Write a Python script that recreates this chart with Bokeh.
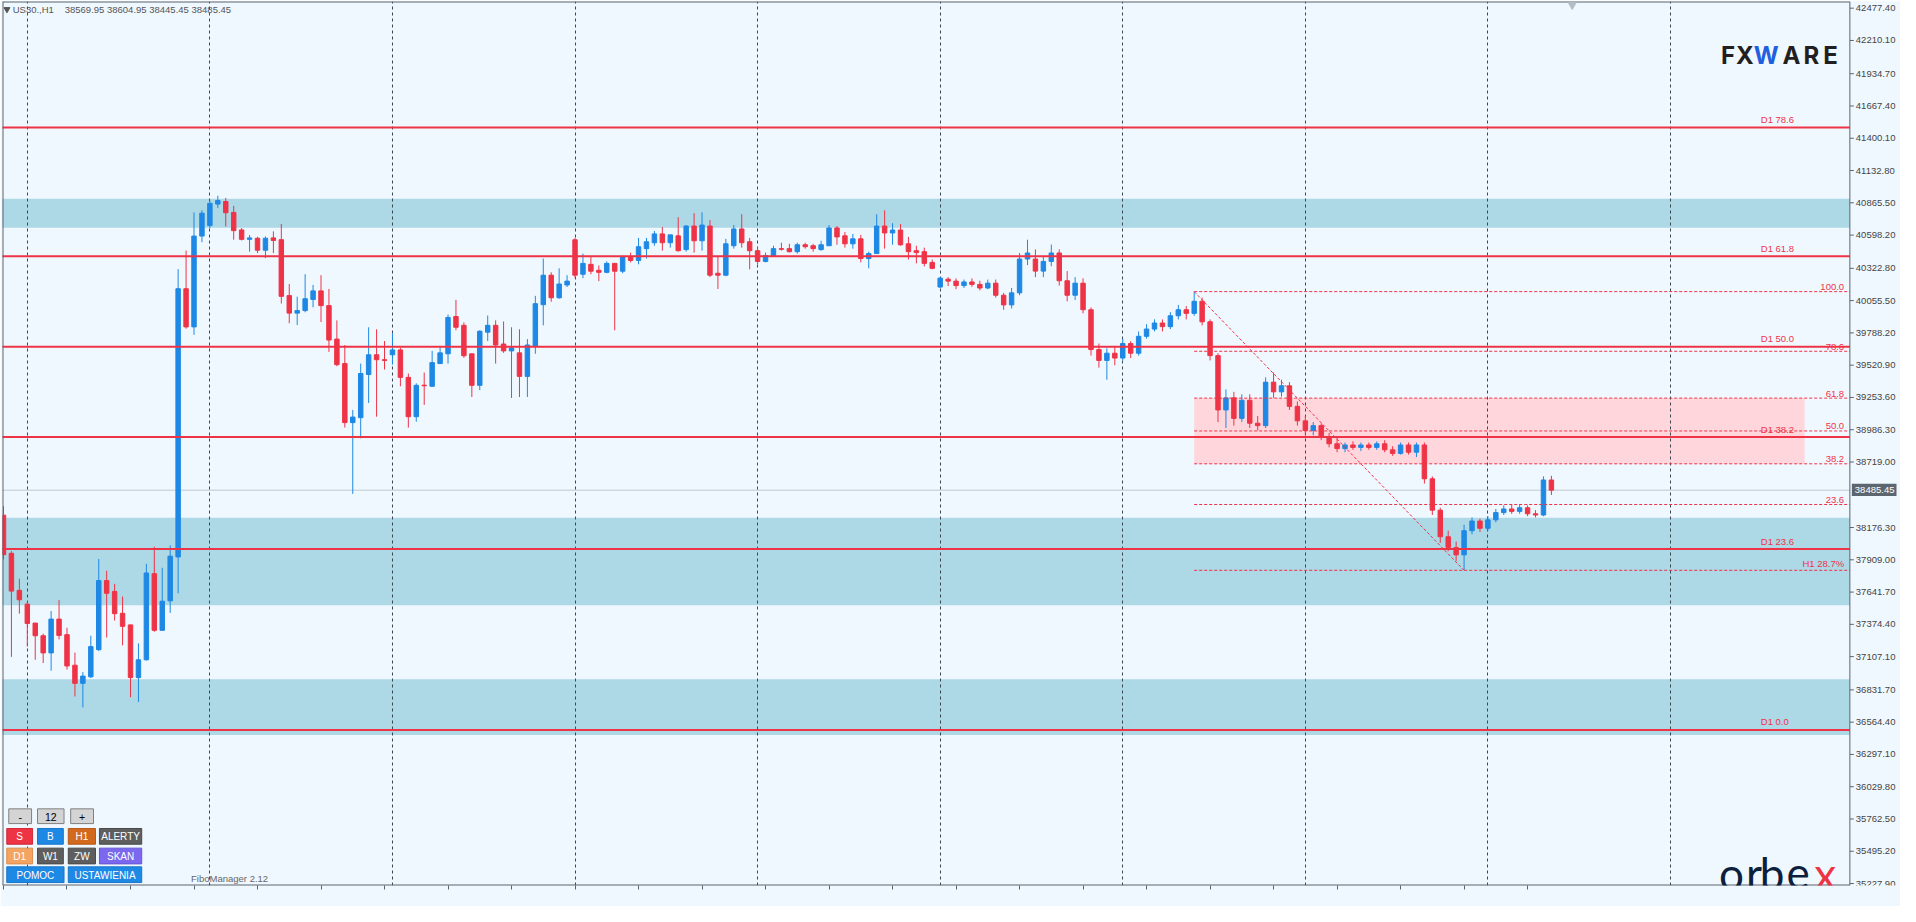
from bokeh.plotting import figure
from bokeh.models import (Range1d, LinearAxis, FixedTicker, LabelSet, ColumnDataSource, Grid,
                          CustomJSTickFormatter)
from bokeh.embed import file_html
from bokeh.resources import INLINE
from bokeh.core.properties import value

# ---------------- data ----------------
symbol = "US30.,H1"
header_ohlc = "38569.95 38604.95 38445.45 38485.45"

opens = [38279, 37963, 37656, 37542, 37385, 37280, 37138, 37418, 37289, 37036,
         36886, 36940, 37165, 37737, 37647, 37466, 37370, 36934, 37081, 37794,
         37325, 37569, 37933, 40154, 39838, 40590, 40677, 40855, 40876, 40786,
         40641, 40563, 40572, 40473, 40575, 40560, 40097, 39952, 39973, 40065,
         40136, 40014, 39737, 39534, 39045, 39086, 39444, 39607, 39566, 39607,
         39647, 39420, 39094, 39355, 39346, 39534, 39615, 39924, 39851, 39615,
         39354, 39794, 39851, 39696, 39639, 39623, 39428, 39680, 40022, 40266,
         40079, 40185, 40559, 40274, 40356, 40307, 40290, 40364, 40299, 40421,
         40388, 40486, 40535, 40608, 40535, 40592, 40478, 40673, 40551, 40673,
         40282, 40266, 40510, 40649, 40543, 40469, 40380, 40421, 40486, 40486,
         40461, 40518, 40510, 40478, 40510, 40657, 40592, 40526, 40567, 40404,
         40445, 40673, 40616, 40640, 40526, 40469, 40461, 40372, 40168, 40233,
         40217, 40180, 40210, 40190, 40160, 40200, 40100, 40020, 40120, 40400,
         40400, 40300, 40380, 40450, 40220, 40100, 40200, 39980, 39650, 39560,
         39620, 39580, 39700, 39620, 39760, 39820, 39870, 39840, 39930, 39980,
         39950, 40050, 39880, 39600, 39150, 39250, 39080, 39230, 39040, 39020,
         39380, 39300, 39350, 39180, 39060, 38980, 39020, 38930, 38870, 38830,
         38860, 38840, 38860, 38840, 38870, 38820, 38790, 38860, 38800, 38860,
         38580, 38320, 38100, 38010, 37950, 38150, 38230, 38170, 38240, 38300,
         38330, 38310, 38340, 38290, 38280, 38569.95]
highs = [38354, 37981, 37752, 37560, 37385, 37298, 37485, 37575, 37346, 37141,
         36979, 37280, 37915, 37818, 37710, 37605, 37370, 37217, 37876, 38017,
         37843, 38029, 40316, 40470, 40786, 40804, 40882, 40924, 40906, 40840,
         40656, 40599, 40584, 40587, 40629, 40690, 40193, 40088, 40274, 40185,
         40266, 40152, 39892, 39688, 39151, 39534, 39835, 39818, 39721, 39783,
         39664, 39452, 39371, 39460, 39639, 39680, 39940, 40062, 39875, 39615,
         39810, 39932, 39892, 39883, 39835, 39818, 39737, 40095, 40404, 40290,
         40323, 40266, 40575, 40445, 40421, 40347, 40380, 40364, 40429, 40453,
         40575, 40575, 40632, 40665, 40600, 40746, 40681, 40779, 40787, 40722,
         40421, 40567, 40681, 40771, 40575, 40502, 40453, 40510, 40535, 40526,
         40535, 40535, 40526, 40551, 40681, 40673, 40624, 40608, 40600, 40461,
         40771, 40803, 40697, 40689, 40583, 40510, 40494, 40396, 40250, 40250,
         40240, 40230, 40240, 40220, 40230, 40230, 40120, 40160, 40450, 40560,
         40480, 40420, 40520, 40480, 40300, 40250, 40240, 40000, 39700, 39660,
         39680, 39740, 39720, 39800, 39860, 39900, 39900, 39960, 40020, 40010,
         40130, 40080, 39900, 39620, 39320, 39300, 39280, 39280, 39100, 39420,
         39460, 39400, 39380, 39220, 39100, 39050, 39040, 38960, 38920, 38880,
         38890, 38880, 38880, 38890, 38900, 38850, 38880, 38880, 38880, 38880,
         38600, 38340, 38150, 38060, 38200, 38260, 38250, 38270, 38330, 38360,
         38370, 38370, 38360, 38320, 38600, 38604.95]
lows = [37912, 37105, 37463, 37190, 37081, 37054, 36991, 37250, 37000, 36777,
        36687, 36930, 37153, 37265, 37406, 37201, 36771, 36732, 37075, 37313,
        37325, 37469, 37632, 39823, 39772, 40539, 40656, 40822, 40669, 40560,
        40554, 40461, 40449, 40407, 40449, 40031, 39868, 39853, 39959, 40000,
        39878, 39631, 39512, 39004, 38455, 38915, 39208, 39094, 39485, 39525,
        39346, 39004, 39053, 39192, 39346, 39534, 39534, 39810, 39582, 39257,
        39314, 39721, 39534, 39623, 39249, 39257, 39257, 39615, 39851, 40046,
        40071, 40168, 40242, 40242, 40274, 40217, 40282, 39810, 40282, 40372,
        40356, 40404, 40510, 40469, 40494, 40461, 40461, 40453, 40469, 40250,
        40152, 40258, 40486, 40494, 40315, 40356, 40372, 40421, 40469, 40453,
        40445, 40486, 40461, 40469, 40510, 40518, 40494, 40486, 40372, 40323,
        40445, 40486, 40518, 40510, 40396, 40364, 40339, 40315, 40160, 40176,
        40150, 40160, 40170, 40140, 40150, 40080, 39980, 39990, 40100, 40350,
        40250, 40250, 40340, 40180, 40050, 40060, 39950, 39600, 39500, 39400,
        39520, 39560, 39580, 39600, 39740, 39800, 39800, 39820, 39900, 39900,
        39930, 39850, 39560, 39050, 39000, 39020, 39050, 39000, 38980, 39000,
        39250, 39260, 39150, 39020, 38940, 38940, 38900, 38840, 38800, 38800,
        38820, 38810, 38820, 38820, 38800, 38770, 38780, 38780, 38760, 38540,
        38280, 38050, 37980, 37900, 37822, 38120, 38140, 38150, 38220, 38280,
        38290, 38290, 38270, 38260, 38270, 38445.45]
closes = [37951, 37650, 37578, 37382, 37280, 37138, 37418, 37283, 37030, 36886,
          36946, 37190, 37737, 37632, 37463, 37358, 36934, 37081, 37800, 37325,
          37566, 37939, 40154, 39838, 40590, 40780, 40861, 40885, 40783, 40635,
          40563, 40575, 40473, 40572, 40554, 40091, 39952, 39973, 40071, 40136,
          40014, 39729, 39525, 39045, 39091, 39452, 39607, 39566, 39560, 39647,
          39420, 39094, 39354, 39350, 39542, 39623, 39916, 39835, 39599, 39354,
          39802, 39851, 39688, 39639, 39664, 39428, 39688, 40030, 40266, 40079,
          40193, 40217, 40266, 40364, 40299, 40290, 40364, 40299, 40421, 40388,
          40502, 40543, 40608, 40535, 40600, 40469, 40673, 40551, 40681, 40266,
          40266, 40526, 40649, 40535, 40469, 40380, 40429, 40486, 40481, 40461,
          40518, 40502, 40486, 40518, 40657, 40583, 40526, 40567, 40404, 40445,
          40673, 40616, 40640, 40518, 40461, 40453, 40364, 40323, 40242, 40217,
          40180, 40210, 40190, 40160, 40200, 40100, 40020, 40120, 40400, 40450,
          40300, 40380, 40450, 40220, 40100, 40200, 39980, 39650, 39560, 39620,
          39580, 39700, 39620, 39760, 39820, 39870, 39840, 39930, 39980, 39950,
          40050, 39880, 39600, 39150, 39250, 39080, 39230, 39040, 39020, 39380,
          39300, 39350, 39180, 39060, 38980, 39020, 38930, 38870, 38830, 38860,
          38840, 38860, 38840, 38870, 38820, 38790, 38860, 38800, 38860, 38580,
          38320, 38100, 38010, 37950, 38150, 38230, 38170, 38240, 38300, 38330,
          38310, 38340, 38290, 38280, 38570, 38485.45]

time_labels = ["8 Apr 2025", "9 Apr 06:00", "9 Apr 14:00", "9 Apr 22:00", "10 Apr 07:00",
               "10 Apr 15:00", "10 Apr 23:00", "11 Apr 08:00", "11 Apr 16:00", "14 Apr 01:00",
               "14 Apr 09:00", "14 Apr 17:00", "15 Apr 02:00", "15 Apr 10:00", "15 Apr 18:00",
               "16 Apr 03:00", "16 Apr 11:00", "16 Apr 19:00", "17 Apr 04:00", "17 Apr 12:00",
               "17 Apr 20:00", "21 Apr 05:00", "21 Apr 13:00", "21 Apr 21:00", "22 Apr 06:00"]
time_label_idx = [0, 8, 16, 24, 32, 40, 48, 56, 64, 72, 80, 88, 96, 104, 112, 120,
                  128, 136, 144, 152, 160, 168, 176, 184, 192]
day_start_idx = [3, 26, 49, 72, 95, 118, 141, 164, 187, 210]

price_ticks = [42477.40, 42210.10, 41934.70, 41667.40, 41400.10, 41132.80, 40865.50,
               40598.20, 40322.80, 40055.50, 39788.20, 39520.90, 39253.60, 38986.30,
               38719.00, 38176.30, 37909.00, 37641.70, 37374.40, 37107.10, 36831.70,
               36564.40, 36297.10, 36029.80, 35762.50, 35495.20, 35227.90]

d1_names = ["D1 0.0", "D1 23.6", "D1 38.2", "D1 50.0", "D1 61.8", "D1 78.6"]
d1_levels = [36500, 37998, 38925, 39673, 40422, 41489]

fib_names = ["H1 28.7%", "23.6", "38.2", "50.0", "61.8", "78.6", "100.0"]
fib_levels = [37822, 38367, 38704, 38976, 39248, 39636, 40130]
fib_high_idx = 150
fib_low_idx = 184

blue_zone_tops = [40900, 38258, 36920]
blue_zone_bottoms = [40660, 37533, 36458]
pink_zone = dict(left=150, right=226.9, top=39248, bottom=38704)
bid_price = 38485.45
bid_text = "38485.45"

buttons = [
    ("-", 9.3, 32.3, 822, 837, "#d4d4d4", "#000000", "#808080"),
    ("12", 38.3, 65.0, 822, 837, "#d4d4d4", "#000000", "#808080"),
    ("+", 71.7, 94.7, 822, 837, "#d4d4d4", "#000000", "#808080"),
    ("S", 7.3, 33.3, 842, 858, "#ee3344", "#ffffff", "#d0293a"),
    ("B", 38.3, 64.3, 842, 858, "#1e88e5", "#ffffff", "#1a76c8"),
    ("H1", 69.3, 96.7, 842, 858, "#d2691e", "#ffffff", "#b85a18"),
    ("ALERTY", 100.7, 143.3, 842, 858, "#5e5e5e", "#ffffff", "#4a4a4a"),
    ("D1", 7.3, 33.3, 862, 878, "#f4a460", "#ffffff", "#d88e50"),
    ("W1", 38.3, 64.3, 862, 878, "#5e5e5e", "#ffffff", "#4a4a4a"),
    ("ZW", 69.3, 96.7, 862, 878, "#5e5e5e", "#ffffff", "#4a4a4a"),
    ("SKAN", 100.7, 143.3, 862, 878, "#7b68ee", "#ffffff", "#6655d6"),
    ("POMOC", 7.3, 65.0, 881, 897, "#1e88e5", "#ffffff", "#1a76c8"),
    ("USTAWIENIA", 69.3, 143.3, 881, 897, "#1e88e5", "#ffffff", "#1a76c8"),
]

# ---------------- helpers (reference pixel -> data) ----------------
def fx(xf):
    return (xf - 4.0) / 8.0

def fy(yf):
    return 42477.4 - (yf - 7.3) * 8.139

PY = 8.139          # price units per reference pixel
BULL = "#1e88e5"
BEAR = "#ef3347"
RED = "#ef3347"
AX = "#5a6470"
FONTNAME = "Liberation Sans"
FONT = value(FONTNAME)

FRAME_W = 1898
PX = 7.938                      # screen px per candle index
X0 = -0.125
XA = 232.6                      # price-axis line
X1 = X0 + FRAME_W / PX
Y0, Y1 = 35211.7, 42532.7

p = figure(width=1900, height=906, output_backend="svg", toolbar_location=None,
           x_range=Range1d(X0, X1), y_range=Range1d(Y0, Y1),
           x_axis_location=None, y_axis_location=None,
           min_border_left=2, min_border_right=0, min_border_top=1, min_border_bottom=21)
for g in list(p.xgrid) + list(p.ygrid):
    g.visible = False
p.background_fill_color = "#f0f8ff"
p.border_fill_color = "#f0f8ff"
p.outline_line_color = None

# zones
p.quad(left=[X0 - 1] * 3, right=[XA] * 3, top=blue_zone_tops, bottom=blue_zone_bottoms,
       fill_color="#add8e6", line_color=None, level="image")
p.quad(left=[pink_zone["left"]], right=[pink_zone["right"]], top=[pink_zone["top"]],
       bottom=[pink_zone["bottom"]], fill_color="#ffd6dc", line_color=None, level="image")

# day separators
grid = Grid(dimension=0, ticker=FixedTicker(ticks=day_start_idx), grid_line_color="#3d4752",
            grid_line_dash="3 3", grid_line_width=1)
p.add_layout(grid)

# bid line
p.segment(x0=[X0 - 1], x1=[XA], y0=[bid_price], y1=[bid_price], line_color="#c3c9cf",
          line_width=1, level="underlay")

# candles
n = len(opens)
idx = list(range(n))
cols = [BULL if c >= o else BEAR for o, c in zip(opens, closes)]
src = ColumnDataSource(dict(x=idx, h=highs, l=lows,
                            top=[max(o, c) for o, c in zip(opens, closes)],
                            bot=[min(o, c) for o, c in zip(opens, closes)], col=cols))
p.segment(x0="x", y0="h", x1="x", y1="l", line_color="col", line_width=1, source=src)
p.vbar(x="x", width=0.56, top="top", bottom="bot", fill_color="col", line_color="col",
       line_width=1, source=src)

# D1 lines
p.segment(x0=[X0 - 1] * len(d1_levels), x1=[XA] * len(d1_levels), y0=d1_levels, y1=d1_levels,
          line_color=RED, line_width=2)
p.text(x=[fx(1775)] * len(d1_levels), y=[lv + 2.5 * PY for lv in d1_levels], text=d1_names,
       text_font=FONT, text_font_size="9.5px", text_color=RED, text_align="left",
       text_baseline="bottom")

# fib lines
p.segment(x0=[fib_high_idx] * len(fib_levels), x1=[XA] * len(fib_levels), y0=fib_levels,
          y1=fib_levels, line_color=RED, line_width=1, line_dash="3 2")
p.line(x=[fib_high_idx, fib_low_idx], y=[fib_levels[-1], fib_levels[0]], line_color=RED,
       line_width=1, line_dash="3 2")
p.text(x=[fx(1859)] * len(fib_levels), y=[lv + 1.5 * PY for lv in fib_levels], text=fib_names,
       text_font=FONT, text_font_size="9.5px", text_color=RED, text_align="right",
       text_baseline="bottom")

# chart borders and price axis line
p.segment(x0=[X0, X0, X0, XA], x1=[X0, XA, XA, XA], y0=[Y0, Y0, Y1, Y0], y1=[Y1, Y0, Y1, Y1],
          line_color=AX, line_width=[2, 2, 2, 1])

# price-axis ticks and labels
p.segment(x0=[XA] * len(price_ticks), x1=[XA + 4 / 8] * len(price_ticks), y0=price_ticks,
          y1=price_ticks, line_color=AX, line_width=1)
pl_src = ColumnDataSource(dict(x=[XA + 6 / 8] * len(price_ticks), y=price_ticks,
                               t=["%.2f" % v for v in price_ticks]))
p.add_layout(LabelSet(x="x", y="y", text="t", source=pl_src, text_font=FONT,
                      text_font_size="9.5px", text_color="#444444", text_align="left",
                      text_baseline="middle"))

# bid box on the price axis
p.quad(left=[XA + 2 / 8], right=[XA + 47 / 8], top=[bid_price + 6.5 * PY],
       bottom=[bid_price - 6 * PY], fill_color="#5c6670", line_color=None)
p.text(x=[XA + 5 / 8], y=[bid_price], text=[bid_text], text_font=FONT, text_font_size="9.5px",
       text_color="#ffffff", text_align="left", text_baseline="middle")

# time axis ticks + labels
xax = LinearAxis(ticker=FixedTicker(ticks=time_label_idx), formatter=CustomJSTickFormatter(code="return ''"),
                 major_tick_out=4, major_tick_in=0, minor_tick_out=0, minor_tick_in=0,
                 axis_line_color=None, major_tick_line_color=AX, major_label_text_font_size="9.5px")
p.add_layout(xax, "below")

tl_src = ColumnDataSource(dict(x=[i - 0.15 for i in time_label_idx],
                               y=[Y0 - 5.5 * PY] * len(time_label_idx), t=time_labels))
p.add_layout(LabelSet(x="x", y="y", text="t", source=tl_src, text_font=FONT,
                      text_font_size="9.5px", text_color="#444444", text_align="left",
                      text_baseline="top"))

# header
p.scatter(x=[fx(7.5)], y=[fy(8.5)], marker="inverted_triangle", size=6, color="#555555")
p.text(x=[fx(13.3)], y=[fy(8.8)], text=[symbol], text_font=FONT, text_font_size="9.5px",
       text_color="#555555", text_baseline="middle")
p.text(x=[fx(65.7)], y=[fy(8.8)], text=[header_ohlc], text_font=FONT, text_font_size="9.5px",
       text_color="#555555", text_baseline="middle")
# chart-shift marker
p.scatter(x=[fx(1585)], y=[fy(4)], marker="inverted_triangle", size=8, color="#b4bcc4")

# FiboManager
p.text(x=[fx(193)], y=[fy(893)], text=["FiboManager 2.12"], text_font=FONT,
       text_font_size="9.5px", text_color="#666666", text_baseline="middle")

# buttons
for (lab, x0, x1, y0, y1, fc, tc, lc) in buttons:
    p.quad(left=[fx(x0)], right=[fx(x1)], top=[fy(y0)], bottom=[fy(y1)], fill_color=fc,
           line_color=lc, line_width=1)
    p.text(x=[fx((x0 + x1) / 2)], y=[fy((y0 + y1) / 2 + 0.5)], text=[lab], text_font=FONT,
           text_font_size="10.5px" if tc == "#000000" else "10px", text_color=tc,
           text_align="center", text_baseline="middle")

# FXWARE logo
fx_letters = ["F", "X", "W", "A", "R", "E"]
fx_left = [1735, 1750, 1768, 1797, 1818, 1838]
fx_cols = ["#231f20", "#231f20", "#1f5fe0", "#231f20", "#231f20", "#231f20"]
p.text(x=[fx(v) for v in fx_left], y=[fy(55)] * 6, text=fx_letters, text_font=value("Inter"),
       text_font_size="24px", text_font_style="bold", text_color=fx_cols,
       text_align="left", text_baseline="alphabetic")

# orbex logo
ob_letters = ["o", "r", "b", "e", "x"]
ob_left = [1733, 1760, 1774, 1801, 1829]
ob_cols = ["#0d1f3d", "#0d1f3d", "#0d1f3d", "#0d1f3d", "#ee3345"]
p.text(x=[fx(v) for v in ob_left], y=[fy(887)] * 5, text=ob_letters, text_font=value("Lato"),
       text_font_size="44px", text_color=ob_cols, text_align="left",
       text_baseline="alphabetic")

open("out.html", "w").write(file_html(p, INLINE))
